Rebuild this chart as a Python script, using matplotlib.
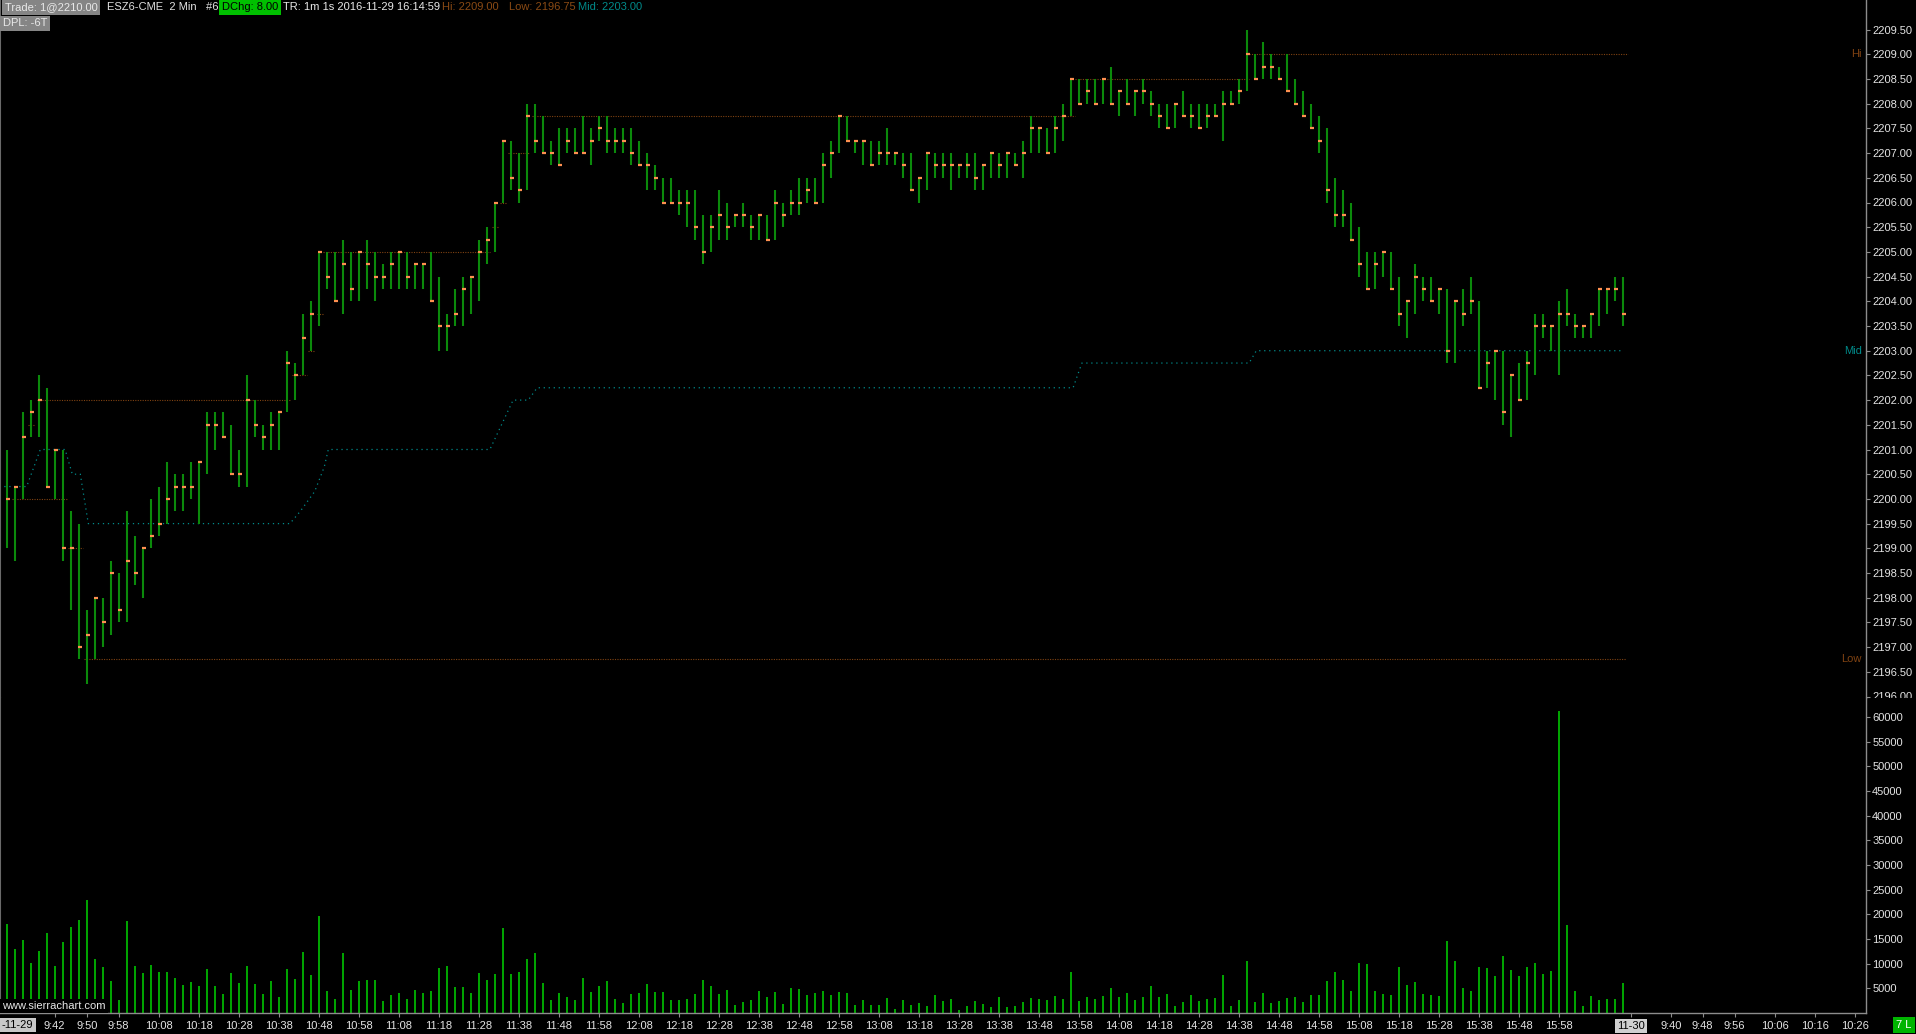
import matplotlib
matplotlib.use("Agg")
import matplotlib.pyplot as plt
from matplotlib.transforms import Bbox, TransformedBbox, blended_transform_factory
import numpy as np

plt.rcParams['font.family'] = ['Liberation Sans', 'DejaVu Sans']

# ---------------- data (2-min bars, ESZ6, 2016-11-29 from 9:30) ----------------
highs = [
    2201, 2200.25, 2201.75, 2202, 2202.5, 2202.25, 2201, 2201, 2199.75, 2199.5,
    2197.75, 2198, 2198, 2198.75, 2198.5, 2199.75, 2199.25, 2199, 2200, 2200.25,
    2200.75, 2200.5, 2200.5, 2200.75, 2200.75, 2201.75, 2201.75, 2201.75, 2201.5, 2201,
    2202.5, 2202, 2201.5, 2201.75, 2201.75, 2203, 2202.75, 2203.75, 2204, 2205,
    2205, 2205, 2205.25, 2205, 2205, 2205.25, 2205, 2204.75, 2205, 2205,
    2205, 2204.75, 2204.75, 2205, 2204.5, 2203.75, 2204.25, 2204.5, 2204.5, 2205.25,
    2205.5, 2206, 2207.25, 2207.25, 2207, 2208, 2208, 2207.75, 2207.25, 2207.5,
    2207.5, 2207.5, 2207.75, 2207.5, 2207.75, 2207.75, 2207.5, 2207.5, 2207.5, 2207.25,
    2207, 2206.75, 2206.5, 2206.5, 2206.25, 2206.25, 2206.25, 2205.75, 2205.75, 2206.25,
    2206, 2205.75, 2206, 2205.75, 2205.75, 2205.75, 2206.25, 2206, 2206.25, 2206.5,
    2206.5, 2206.5, 2207, 2207.25, 2207.75, 2207.75, 2207.25, 2207.25, 2207.25, 2207.25,
    2207.5, 2207, 2207, 2207, 2206.5, 2207, 2207, 2207, 2207, 2206.75,
    2207, 2207, 2206.75, 2207, 2207, 2207, 2207, 2207.25, 2207.75, 2207.5,
    2207.5, 2207.75, 2208, 2208.5, 2208.5, 2208.5, 2208.5, 2208.5, 2208.75, 2208.25,
    2208.5, 2208.25, 2208.5, 2208.25, 2208, 2208, 2208, 2208.25, 2208, 2208,
    2208, 2208, 2208.25, 2208.25, 2208.5, 2209.5, 2209, 2209.25, 2209, 2208.75,
    2209, 2208.5, 2208.25, 2208, 2207.75, 2207.5, 2206.5, 2206.25, 2206, 2205.5,
    2205, 2205, 2205, 2205, 2204.5, 2204, 2204.75, 2204.5, 2204.5, 2204.25,
    2204.25, 2204, 2204.25, 2204.5, 2204, 2203, 2203, 2203, 2202.5, 2202.75,
    2203, 2203.75, 2203.75, 2203.5, 2204, 2204.25, 2203.75, 2203.5, 2203.75, 2204.25,
    2204.25, 2204.5, 2204.5,
]
lows = [
    2199, 2198.75, 2200, 2201.25, 2201.25, 2200.25, 2200, 2198.75, 2197.75, 2196.75,
    2196.25, 2196.75, 2197, 2197.25, 2197.5, 2197.5, 2198.25, 2198, 2199, 2199.25,
    2199.5, 2199.75, 2199.75, 2200, 2199.5, 2200.5, 2201, 2201.25, 2200.5, 2200.25,
    2200.25, 2201.25, 2201, 2201, 2201, 2201.75, 2202, 2202.5, 2203, 2203.5,
    2204.25, 2204, 2203.75, 2204, 2204, 2204.25, 2204, 2204.25, 2204.25, 2204.25,
    2204.25, 2204.25, 2204.25, 2204, 2203, 2203, 2203.5, 2203.5, 2203.75, 2204,
    2204.75, 2205, 2206, 2206.25, 2206, 2206.25, 2207, 2207, 2206.75, 2206.75,
    2207, 2207, 2207, 2206.75, 2207.25, 2207, 2207, 2207, 2206.75, 2206.75,
    2206.25, 2206.25, 2206, 2206, 2205.75, 2205.5, 2205.25, 2204.75, 2205, 2205.25,
    2205.25, 2205.5, 2205.5, 2205.25, 2205.25, 2205.25, 2205.25, 2205.5, 2205.75, 2205.75,
    2206, 2206, 2206, 2206.5, 2207, 2207.25, 2207, 2206.75, 2206.75, 2206.75,
    2206.75, 2206.75, 2206.5, 2206.25, 2206, 2206.25, 2206.5, 2206.5, 2206.25, 2206.5,
    2206.5, 2206.25, 2206.25, 2206.5, 2206.5, 2206.5, 2206.75, 2206.5, 2207, 2207,
    2207, 2207, 2207.25, 2207.75, 2208, 2208, 2208, 2208, 2208, 2207.75,
    2208, 2207.75, 2208, 2207.75, 2207.5, 2207.5, 2207.5, 2207.75, 2207.5, 2207.5,
    2207.5, 2207.75, 2207.25, 2208, 2208, 2208.25, 2208.5, 2208.5, 2208.5, 2208.5,
    2208.25, 2208, 2207.75, 2207.5, 2207, 2206, 2205.5, 2205.5, 2205.25, 2204.5,
    2204.25, 2204.25, 2204.5, 2204.25, 2203.5, 2203.25, 2203.75, 2204, 2204, 2203.75,
    2202.75, 2202.75, 2203.5, 2203.75, 2202.25, 2202.25, 2202, 2201.5, 2201.25, 2202,
    2202, 2202.5, 2203.25, 2203, 2202.5, 2203.5, 2203.25, 2203.25, 2203.25, 2203.5,
    2203.75, 2204, 2203.5,
]
closes = [
    2200, 2200.25, 2201.25, 2201.75, 2202, 2200.25, 2201, 2199, 2199, 2197,
    2197.25, 2198, 2197.5, 2198.5, 2197.75, 2198.75, 2198.5, 2199, 2199.25, 2199.5,
    2200, 2200.25, 2200.25, 2200.25, 2200.75, 2201.5, 2201.5, 2201.25, 2200.5, 2200.5,
    2202, 2201.5, 2201.25, 2201.5, 2201.75, 2202.75, 2202.5, 2203.25, 2203.75, 2205,
    2204.5, 2204, 2204.75, 2204.25, 2205, 2204.75, 2204.5, 2204.5, 2204.75, 2205,
    2204.5, 2204.75, 2204.75, 2204, 2203.5, 2203.5, 2203.75, 2204.25, 2204.5, 2205,
    2205.25, 2206, 2207.25, 2206.5, 2206.25, 2207.75, 2207.25, 2207, 2207, 2206.75,
    2207.25, 2207, 2207, 2207.25, 2207.5, 2207.25, 2207.25, 2207.25, 2207, 2206.75,
    2206.75, 2206.5, 2206, 2206, 2206, 2206, 2205.5, 2205, 2205.5, 2205.75,
    2205.5, 2205.75, 2205.75, 2205.5, 2205.75, 2205.25, 2206, 2205.75, 2206, 2206,
    2206.25, 2206, 2206.75, 2207, 2207.75, 2207.25, 2207.25, 2207.25, 2206.75, 2207,
    2207, 2207, 2206.75, 2206.25, 2206.5, 2207, 2206.75, 2206.75, 2206.75, 2206.75,
    2206.75, 2206.5, 2206.75, 2207, 2206.75, 2207, 2206.75, 2207, 2207.5, 2207.5,
    2207, 2207.5, 2207.75, 2208.5, 2208, 2208.25, 2208, 2208.5, 2208, 2208.25,
    2208, 2208.25, 2208.25, 2208, 2207.75, 2207.5, 2208, 2207.75, 2207.75, 2207.5,
    2207.75, 2207.75, 2208, 2208, 2208.25, 2209, 2208.5, 2208.75, 2208.75, 2208.5,
    2208.25, 2208, 2207.75, 2207.5, 2207.25, 2206.25, 2205.75, 2205.75, 2205.25, 2204.75,
    2204.25, 2204.75, 2205, 2204.25, 2203.75, 2204, 2204.5, 2204.25, 2204, 2204.25,
    2203, 2204, 2203.75, 2204, 2202.25, 2202.75, 2203, 2201.75, 2202.5, 2202,
    2202.75, 2203.5, 2203.5, 2203.5, 2203.75, 2203.75, 2203.5, 2203.5, 2203.75, 2204.25,
    2204.25, 2204.25, 2203.75,
]
volumes = [
    18000, 13000, 14800, 10100, 12600, 16300, 9500, 14300, 17400, 18900,
    22900, 10900, 9300, 6500, 2600, 18600, 9500, 8100, 9700, 8300,
    8300, 7100, 5700, 6300, 5500, 8900, 5500, 3900, 8100, 6100,
    9500, 5900, 3900, 6500, 3200, 8900, 6900, 12400, 7700, 19700,
    4500, 2800, 12200, 4700, 6500, 6700, 6700, 2400, 3600, 4100,
    2800, 4700, 4100, 4500, 9100, 9500, 5300, 5300, 4100, 8100,
    6700, 7900, 17200, 7900, 8300, 10900, 12200, 6100, 2600, 4100,
    3200, 2600, 7100, 4300, 5500, 6500, 2800, 2000, 3900, 4100,
    5900, 4300, 4300, 2600, 2600, 2800, 3900, 6700, 5500, 3900,
    4700, 1600, 2200, 2600, 4500, 3200, 4300, 1800, 5100, 4900,
    3600, 4100, 4500, 3600, 4300, 4100, 1600, 2600, 1600, 1600,
    3000, 800, 2600, 1600, 2000, 1400, 3600, 2400, 2800, 600,
    1400, 2400, 1800, 1200, 3200, 1200, 1400, 2200, 3000, 2800,
    2600, 3400, 2800, 8300, 2400, 3200, 2800, 3400, 5100, 3200,
    4100, 2600, 3200, 5500, 3200, 3900, 1400, 2200, 3600, 2400,
    2800, 3000, 7700, 1400, 2600, 10500, 2200, 4100, 2000, 2400,
    3000, 3200, 2200, 3600, 3600, 6500, 8300, 6700, 4500, 10100,
    9900, 4500, 3900, 3600, 9300, 5700, 6300, 3900, 3600, 3400,
    14600, 10500, 5100, 4500, 9300, 9100, 7500, 11600, 8700, 7500,
    9300, 10100, 7900, 8500, 61200, 17800, 4500, 1400, 3400, 2600,
    2800, 2800, 6100,
]

# study lines: (level, first bar, last bar)
high_lines = [(2201.5, 2.7, 3.5), (2202.0, 3.8, 35.4), (2202.5, 35.7, 37.5),
              (2203.0, 37.7, 38.5), (2203.75, 38.8, 39.5), (2205.0, 39.5, 60.4),
              (2205.5, 60.7, 61.4), (2206.0, 61.7, 62.5), (2207.0, 62.7, 65.4),
              (2207.75, 65.7, 133.5), (2208.5, 133.5, 155.3), (2209.0, 155.3, 202.6)]
low_lines = [(2200.0, 0.7, 7.5), (2199.0, 7.6, 9.5), (2196.75, 9.7, 202.4)]
mid_bars = [-0.3, 2.5, 4.2, 7.3, 8.2, 9.2, 10.2, 35.4, 36.7, 38.5, 39.7, 40.2,
            60.4, 63.3, 65.2, 66.3, 133.3, 134.4, 155.3, 156.2, 202.0]
mid_vals = [2200.25, 2200.25, 2201.0, 2201.0, 2200.5, 2200.5, 2199.5, 2199.5,
            2199.75, 2200.15, 2200.65, 2201.0, 2201.0, 2202.0, 2202.0, 2202.25,
            2202.25, 2202.75, 2202.75, 2203.0, 2203.0]

tick_times = ["9:42", "9:50", "9:58", "10:08", "10:18", "10:28", "10:38", "10:48",
              "10:58", "11:08", "11:18", "11:28", "11:38", "11:48", "11:58", "12:08",
              "12:18", "12:28", "12:38", "12:48", "12:58", "13:08", "13:18", "13:28",
              "13:38", "13:48", "13:58", "14:08", "14:18", "14:28", "14:38", "14:48",
              "14:58", "15:08", "15:18", "15:28", "15:38", "15:48", "15:58"]
next_day_label = "11-30"
next_tick_times = ["9:40", "9:48", "9:56", "10:06", "10:16", "10:26"]
price_ticks = [2196.0 + 0.5 * k for k in range(28)]
vol_ticks = [5000 * k for k in range(1, 13)]

header_items = [
    ("Trade: 1@2210.00", 5, 7.5, '#e8e8e8', '#858585'),
    ("ESZ6-CME  2 Min   #6", 107, 7.5, '#e0e0e0', None),
    ("DChg: 8.00", 222, 7.5, '#000000', '#00c000'),
    ("TR: 1m 1s 2016-11-29 16:14:59", 283, 7.5, '#e8e8e8', None),
    ("Hi: 2209.00", 442, 7.5, '#8a4a14', None),
    ("Low: 2196.75", 509, 7.5, '#8a4a14', None),
    ("Mid: 2203.00", 578, 7.5, '#008a8a', None),
    ("DPL: -6T", 3, 23.5, '#e8e8e8', '#858585'),
]

# ---------------- figure ----------------
W, H = 1916, 1034
fig = plt.figure(figsize=(W / 100, H / 100), dpi=100, facecolor='black')

def fx(px):
    return px / W

def fy(py):
    return 1 - py / H

AX_R = 1866
PANEL_SPLIT = 698
VOL_BASE = 1013
ax = fig.add_axes([0, fy(PANEL_SPLIT), fx(AX_R), PANEL_SPLIT / H], facecolor='black')
axv = fig.add_axes([0, fy(VOL_BASE), fx(AX_R), (VOL_BASE - PANEL_SPLIT) / H],
                   facecolor='black', sharex=ax)

n = len(highs)
idx = np.arange(n)

def bar_of(t):
    h, m = map(int, t.split(':'))
    return ((h * 60 + m) - (9 * 60 + 30)) / 2.0

# pixel mapping: bar i at 6.7 + 8 i px
x0 = -6.7 / 8
x1 = (AX_R - 6.7) / 8
ax.set_xlim(x0, x1)
px_per_pt = 49.4
y_ref = 350.7
ax.set_ylim(2203 - (PANEL_SPLIT - y_ref) / px_per_pt, 2203 + y_ref / px_per_pt)
axv.set_ylim(0, (VOL_BASE - PANEL_SPLIT) * 202.7)

BAR_C = '#0b8a0b'
CLOSE_C = '#ff9050'
BROWN = '#7f4212'
TEAL = '#008a8a'
GRID_C = '#8c8c8c'
TXT = '#e4e4e4'

# study lines
for lvl, b0, b1 in high_lines + low_lines:
    ax.plot([b0, b1], [lvl, lvl], color=BROWN, lw=0.8, ls=(0, (1, 1.2)), zorder=1)
ax.plot(mid_bars, mid_vals, color=TEAL, lw=0.9, ls=(0, (1, 3)), zorder=1)

# HLC bars
ax.vlines(idx, lows, highs, color=BAR_C, lw=1.5, zorder=2)
ax.hlines(closes, idx - 0.12, idx + 0.45, color=CLOSE_C, lw=1.6, zorder=3)

# volume
axv.vlines(idx, 0, volumes, color='#00a800', lw=1.4)

# axes styling
for a in (ax, axv):
    a.spines['top'].set_visible(False)
    a.spines['right'].set_color(GRID_C)
    a.spines['left'].set_color('#6a6a6a')
    a.spines['right'].set_linewidth(1.0)
    a.spines['left'].set_linewidth(1.5)
    a.yaxis.tick_right()
    a.tick_params(axis='y', colors=GRID_C, labelcolor=TXT, length=3, width=0.8,
                  pad=1.5, labelsize=8)
ax.spines['bottom'].set_visible(False)
axv.spines['bottom'].set_color(GRID_C)
axv.spines['bottom'].set_linewidth(1.0)

ax.set_yticks(price_ticks)
ax.set_yticklabels([f"{p:.2f}" for p in price_ticks])
axv.set_yticks(vol_ticks)
axv.set_yticklabels([str(v) for v in vol_ticks])
ax.tick_params(axis='x', bottom=False, labelbottom=False)

xt = [bar_of(t) for t in tick_times] + [n] + [n + bar_of(t) for t in next_tick_times]
xl = tick_times + [next_day_label] + next_tick_times
axv.set_xticks(xt)
axv.set_xticklabels(xl)
axv.tick_params(axis='x', colors=GRID_C, labelcolor=TXT, length=3, width=0.8,
                pad=3, labelsize=8)
ax.set_xlim(x0, x1)
for lab in axv.get_xticklabels():
    if lab.get_text() == next_day_label:
        lab.set_color('black')
        lab.set_bbox(dict(facecolor='#d0d0d0', edgecolor='none', pad=1.5))

# clip price labels at panel boundary
clipbb = TransformedBbox(Bbox([[fx(AX_R), fy(PANEL_SPLIT)], [1, 1]]), fig.transFigure)
for tk in ax.yaxis.get_major_ticks():
    tk.label2.set_clip_box(clipbb)
    tk.label2.set_clip_on(True)

# Hi / Mid / Low labels at right edge
tr = blended_transform_factory(ax.transAxes, ax.transData)
xr = (AX_R - 4) / AX_R
ax.text(xr, high_lines[-1][0], "Hi", color=BROWN, ha='right', va='center',
        fontsize=8, transform=tr)
ax.text(xr, mid_vals[-1], "Mid", color=TEAL, ha='right', va='center',
        fontsize=8, transform=tr)
ax.text(xr, low_lines[-1][0], "Low", color=BROWN, ha='right', va='center',
        fontsize=8, transform=tr)

# header
for txt, px, py, col, bg in header_items:
    kw = {}
    if bg:
        kw['bbox'] = dict(facecolor=bg, edgecolor='none', pad=1.8)
    fig.text(fx(px), fy(py), txt, color=col, ha='left', va='center', fontsize=8, **kw)

# bottom labels
fig.text(fx(2), fy(1006), "www.sierrachart.com", color='#e8e8e8', ha='left',
         va='center', fontsize=8,
         bbox=dict(facecolor='black', edgecolor='none', pad=1.5))
fig.text(fx(2), fy(1025), "-11-29", color='black', ha='left', va='center', fontsize=8,
         bbox=dict(facecolor='#c8c8c8', edgecolor='none', pad=1.5))
fig.text(fx(1904), fy(1025), "7 L", color='white', ha='center', va='center',
         fontsize=8, bbox=dict(facecolor='#00b400', edgecolor='none', pad=2.2))

fig.savefig("out.png", dpi=100, facecolor='black')
